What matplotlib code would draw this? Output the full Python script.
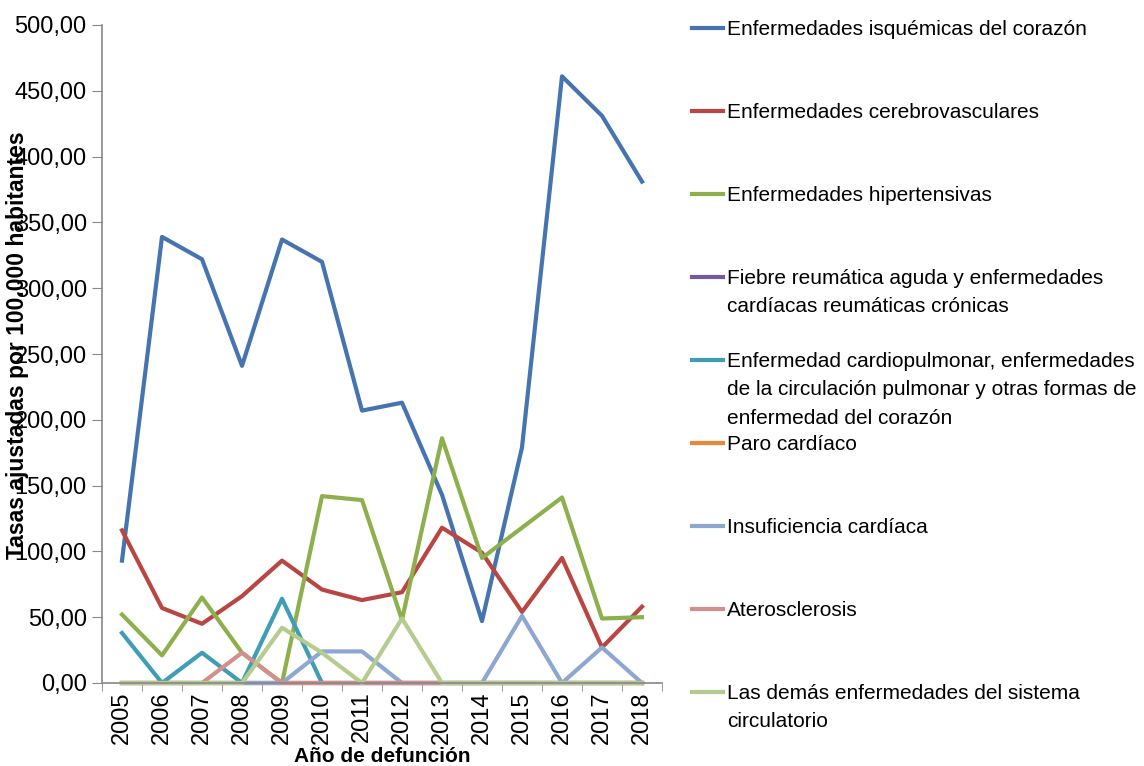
import matplotlib
matplotlib.use("Agg")
import matplotlib.pyplot as plt
from matplotlib.lines import Line2D
from matplotlib.ticker import FuncFormatter, FixedLocator

# data
years = [str(y) for y in range(2005, 2019)]

isquemicas = [93, 339, 322, 241, 337, 320, 207, 213, 143, 47, 179, 461, 431, 381]
cerebrovasculares = [116, 57, 45, 66, 93, 71, 63, 69, 118, 99, 54, 95, 27, 58]
hipertensivas = [52, 21, 65, 23, 0, 142, 139, 48, 186, 95, 118, 141, 49, 50]
reumaticas = [0] * 14
cardiopulmonar = [38, 0, 23, 0, 64, 0, 0, 0, 0, 0, 0, 0, 0, 0]
paro = [0] * 14
insuficiencia = [0, 0, 0, 0, 0, 24, 24, 0, 0, 0, 51, 0, 27, 0]
aterosclerosis = [0, 0, 0, 23, 0, 0, 0, 0, 0, 0, 0, 0, 0, 0]
demas = [0, 0, 0, 0, 42, 23, 0, 49, 0, 0, 0, 0, 0, 0]

series = [
    ("Enfermedades isquémicas del corazón", isquemicas, "#4674B0"),
    ("Enfermedades cerebrovasculares", cerebrovasculares, "#B94643"),
    ("Enfermedades hipertensivas", hipertensivas, "#8DB04C"),
    ("Fiebre reumática aguda y enfermedades\ncardíacas reumáticas crónicas", reumaticas, "#7459A0"),
    ("Enfermedad cardiopulmonar, enfermedades\nde la circulación pulmonar y otras formas de\nenfermedad del corazón", cardiopulmonar, "#3F9DB5"),
    ("Paro cardíaco", paro, "#E9873C"),
    ("Insuficiencia cardíaca", insuficiencia, "#8EA7D2"),
    ("Aterosclerosis", aterosclerosis, "#D48F8D"),
    ("Las demás enfermedades del sistema\ncirculatorio", demas, "#B5CC8E"),
]

FONT = "Liberation Sans"

fig = plt.figure(figsize=(11.44, 7.66), dpi=100)
ax = fig.add_axes([102 / 1144, 1 - 683 / 766, 560 / 1144, 658 / 766])

x = list(range(len(years)))
# Excel order: later series drawn on top
for name, vals, col in series:
    ax.plot(x, vals, color=col, lw=3, clip_on=False)

ax.set_xlim(-0.5, len(years) - 0.5)
ax.set_ylim(0, 500)
ax.set_yticks(range(0, 501, 50))
ax.yaxis.set_major_formatter(FuncFormatter(lambda v, p: f"{v:.2f}".replace(".", ",")))
ax.set_xticks(x)
ax.set_xticklabels(years, rotation=90, fontsize=17, family=FONT)
ax.xaxis.set_minor_locator(FixedLocator([i - 0.5 for i in range(len(years) + 1)]))
ax.tick_params(axis="x", which="major", length=0, pad=6)
ax.tick_params(axis="x", which="minor", length=6, color="#888888")
ax.tick_params(axis="y", length=7, color="#888888", labelsize=17, pad=4)
for lab in ax.get_yticklabels():
    lab.set_family(FONT)

for s in ["top", "right"]:
    ax.spines[s].set_visible(False)
for s in ["left", "bottom"]:
    ax.spines[s].set_color("#888888")
    ax.spines[s].set_linewidth(1.2)

fig.text(382 / 1144, 1 - 756 / 766, "Año de defunción", ha="center", va="center",
         fontsize=15, fontweight="bold", family=FONT)
fig.text(18 / 1144, 1 - 345 / 766, "Tasas ajustadas por 100.000 habitantes",
         rotation=90, ha="center", va="center", fontsize=16.5, fontweight="bold",
         family=FONT)

# legend, handle aligned with first text line, like Excel
top = 28
step = 83
for i, (name, vals, col) in enumerate(series):
    yc = 1 - (top + i * step) / 766
    fig.add_artist(Line2D([692 / 1144, 723 / 1144], [yc, yc], color=col, lw=3,
                          transform=fig.transFigure))
    fig.text(727 / 1144, yc + 8 / 766, name, ha="left", va="top", fontsize=15,
             family=FONT, linespacing=1.62)

fig.savefig("out.png", dpi=100)
